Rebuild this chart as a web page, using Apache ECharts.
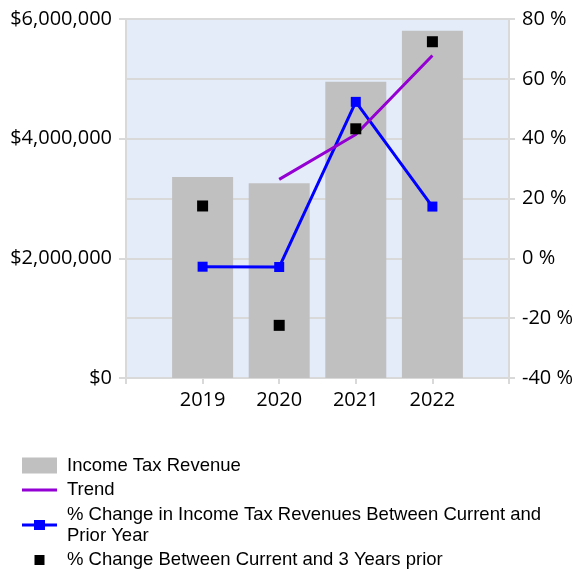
<!DOCTYPE html>
<html>
<head>
<meta charset="utf-8">
<script src="https://cdn.jsdelivr.net/npm/echarts@6/dist/echarts.min.js"></script>
<style>html,body{margin:0;padding:0;background:#fff;}#c{width:579px;height:569px;}</style>
</head>
<body>
<div id="c"></div>
<script>
var years = ['2019', '2020', '2021', '2022'];
var revenue = [3360000, 3256000, 4953000, 5805000];
var pctPrior = [-2.8, -2.9, 52.3, 17.3];
var pct3Years = [17.5, -22.4, 43.3, 72.4];
var trend = [null, 26.4, 41.4, 67.8];
var leftTicks = { min: 0, max: 6000000, interval: 2000000 };
var rightTicks = { min: -40, max: 80, interval: 20 };

var names = ['Income Tax Revenue', 'Trend',
  '% Change in Income Tax Revenues Between Current and Prior Year',
  '% Change Between Current and 3 Years prior'];

function pad(arr) { return [null].concat(arr, [null]); }
var cats = [''].concat(years, ['']);

var chart = echarts.init(document.getElementById('c'));
var gridColor = '#D9D9D9';
var axisFont = { fontFamily: 'Open Sans', fontSize: 20, color: '#000' };
var legendText = { fontFamily: 'Liberation Sans', fontSize: 18.5, color: '#000', lineHeight: 21, padding: [0, 0, 0, 5] };

chart.setOption({
  animation: false,
  grid: { left: 126, right: 70, top: 19, bottom: 191, show: true, backgroundColor: '#E4ECFA', borderWidth: 0 },
  xAxis: {
    type: 'category', data: cats, boundaryGap: false,
    axisLine: { lineStyle: { color: gridColor, width: 2 } },
    axisTick: { show: true, length: 6, lineStyle: { color: gridColor, width: 2 } },
    axisLabel: Object.assign({ margin: 12, interval: 0 }, axisFont),
    splitLine: { show: false }
  },
  yAxis: [{
    type: 'value', position: 'left', min: leftTicks.min, max: leftTicks.max, interval: leftTicks.interval,
    axisLine: { show: true, lineStyle: { color: gridColor, width: 2 } },
    axisTick: { show: true, length: 7, lineStyle: { color: gridColor, width: 2 } },
    axisLabel: Object.assign({ margin: 14, formatter: function (v) { return '$' + v.toLocaleString('en-US'); } }, axisFont),
    splitLine: { show: false }
  }, {
    type: 'value', position: 'right', min: rightTicks.min, max: rightTicks.max, interval: rightTicks.interval,
    axisLine: { show: true, lineStyle: { color: gridColor, width: 2 } },
    axisTick: { show: true, length: 6, lineStyle: { color: gridColor, width: 2 } },
    axisLabel: Object.assign({ margin: 13, formatter: '{value} %' }, axisFont),
    splitLine: { show: true, lineStyle: { color: gridColor, width: 2 } }
  }],
  legend: [{
    orient: 'vertical', left: 22, top: 455, padding: 0, itemWidth: 35, itemHeight: 16, itemGap: 3.5,
    textStyle: legendText, selectedMode: false,
    data: [{ name: names[0], icon: 'rect', itemStyle: { color: '#C0C0C0' } }]
  }, {
    orient: 'vertical', left: 22, top: 479.5, height: 200, padding: 0, itemWidth: 35, itemHeight: 12, itemGap: 3.5,
    textStyle: legendText, selectedMode: false,
    formatter: function (n) {
      if (n === names[2]) return '% Change in Income Tax Revenues Between Current and\nPrior Year';
      return n;
    },
    data: [
      { name: names[1], icon: 'path://M0,0 M35,12 M0,4.5 h35 v3 h-35 z', itemStyle: { color: '#9400D3', borderWidth: 0 } },
      { name: names[2], icon: 'path://M0,0 M35,12 M0,4.5 h35 v3 h-35 z M12,1 h11 v10 h-11 z', itemStyle: { color: '#0000FF', borderWidth: 0 } },
      { name: names[3], icon: 'path://M0,0 M35,12 M12.5,1 h10 v10 h-10 z', itemStyle: { color: '#000000', borderWidth: 0 } }
    ]
  }],
  series: [{
    name: names[0], type: 'bar', yAxisIndex: 0, data: pad(revenue), barWidth: 61,
    itemStyle: { color: '#C0C0C0' }, z: 1
  }, {
    name: names[2], type: 'line', yAxisIndex: 1, data: pad(pctPrior),
    symbol: 'rect', symbolSize: 10, showAllSymbol: true,
    lineStyle: { color: '#0000FF', width: 3 }, itemStyle: { color: '#0000FF' }, z: 3
  }, {
    name: names[1], type: 'line', yAxisIndex: 1, data: pad(trend),
    symbol: 'none', lineStyle: { color: '#9400D3', width: 3 }, itemStyle: { color: '#9400D3' }, z: 4
  }, {
    name: names[3], type: 'scatter', yAxisIndex: 1, data: pad(pct3Years),
    symbol: 'rect', symbolSize: 11, itemStyle: { color: '#000000', opacity: 1 }, z: 5
  }]
});
</script>
</body>
</html>
